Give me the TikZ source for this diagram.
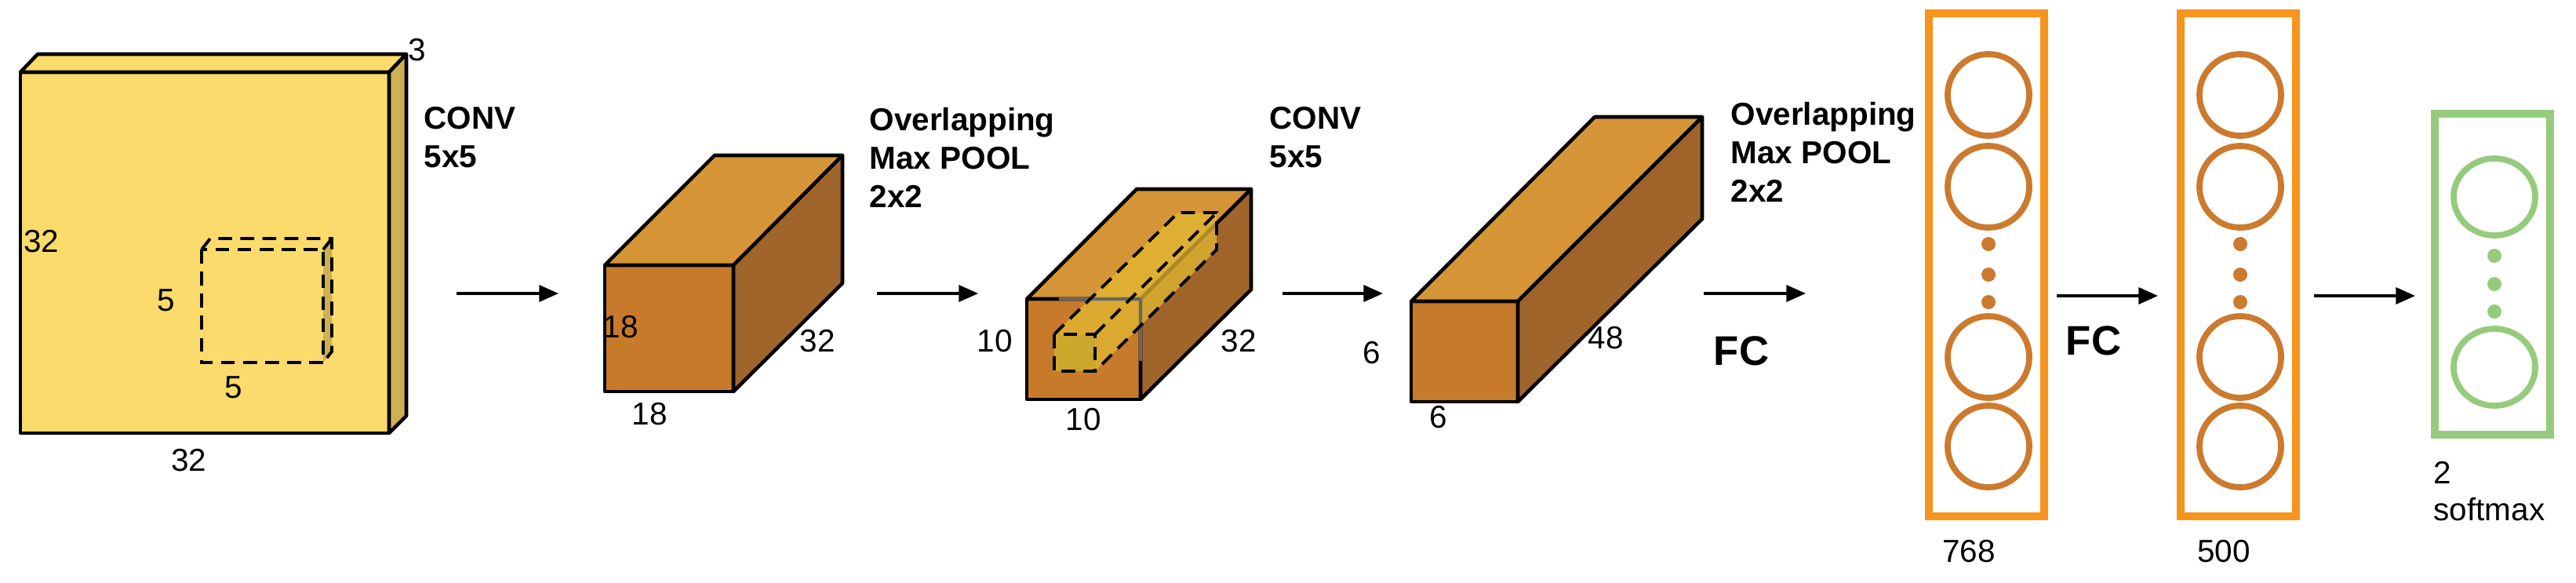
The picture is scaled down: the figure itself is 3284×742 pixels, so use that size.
\documentclass[tikz,border=0pt]{standalone}
\usepackage{fontspec}
\setmainfont{Liberation Sans}
\usetikzlibrary{arrows.meta,shapes.geometric}
\definecolor{ylw}{HTML}{FBDB6B}
\definecolor{ylwside}{HTML}{CDB053}
\definecolor{bfront}{HTML}{C87A2B}
\definecolor{btop}{HTML}{D59537}
\definecolor{bside}{HTML}{A0652A}
\definecolor{prism}{HTML}{E2B931}
\definecolor{orng}{HTML}{F7941D}
\definecolor{circ}{HTML}{CC7A2E}
\definecolor{grn}{HTML}{96CB7D}
\begin{document}
\begin{tikzpicture}[x=0.01cm,y=-0.01cm,
  edge/.style={line width=1.3pt,line join=round,draw=black},
  dsh/.style={line width=1.1pt,dash pattern=on 5pt off 3pt},
  arr/.style={-{Triangle[length=7pt,width=6pt]},line width=0.9pt},
  num/.style={font=\fontsize{11.5}{13.5}\selectfont,inner sep=0pt},
  lab/.style={font=\fontsize{11.5}{14}\selectfont\bfseries,inner sep=0pt,anchor=west,align=left},
  fc/.style={font=\fontsize{15}{18}\selectfont\bfseries,inner sep=0pt},
  neuron/.style={draw=circ,line width=2.2pt,ellipse,minimum width=1.04cm,minimum height=1.04cm,inner sep=0pt},
  dot/.style={fill=circ,circle,minimum size=0.18cm,inner sep=0pt},
  gneuron/.style={draw=grn,line width=2.2pt,ellipse,minimum width=1.04cm,minimum height=0.98cm,inner sep=0pt},
  gdot/.style={fill=grn,circle,minimum size=0.18cm,inner sep=0pt},
]
\useasboundingbox (0,0) rectangle (3284,742);
% ---- input volume
\filldraw[edge,fill=ylw] (26,92) rectangle (496,552);
\filldraw[edge,fill=ylw] (26,92) -- (48,69) -- (518,69) -- (496,92) -- cycle;
\filldraw[edge,fill=ylwside] (496,92) -- (518,69) -- (518,530) -- (496,552) -- cycle;
% dashed kernel
\fill[ylwside] (412,318) -- (423,304) -- (423,448) -- (412,462) -- cycle;
\draw[dsh] (257,318) rectangle (412,462);
\draw[dsh] (257,318) -- (268,304) -- (423,304) -- (423,448) -- (412,462);
\draw[dsh] (412,318) -- (423,304);
\node[num] (n3) at (532,64) {3};
\node[num] (n32a) at (53,308) {32};
\node[num] (n5a) at (212,383) {5};
\node[num] (n5b) at (298,494) {5};
\node[num] (n32b) at (241,587) {32};
\node[lab] (conv1) at (540,175) {CONV\\5x5};
% ---- conv1 output
\filldraw[edge,fill=bfront] (771,338) rectangle (935,499);
\filldraw[edge,fill=btop] (771,338) -- (911,198) -- (1074,198) -- (935,338) -- cycle;
\filldraw[edge,fill=bside] (935,338) -- (1074,198) -- (1074,361) -- (935,499) -- cycle;
\node[num] (n18a) at (791,417) {18};
\node[num] (n32c) at (1042,435) {32};
\node[num] (n18b) at (828,528) {18};
\node[lab] (pool1) at (1108,201) {Overlapping\\Max POOL\\2x2};
% ---- pool1 output
\filldraw[edge,fill=bfront] (1309,381) rectangle (1454,509);
\filldraw[edge,fill=btop] (1309,381) -- (1449,241) -- (1595,241) -- (1454,381) -- cycle;
\filldraw[edge,fill=bside] (1454,381) -- (1595,241) -- (1595,369) -- (1454,509) -- cycle;
% prism
\fill[prism,opacity=0.75] (1344,426) -- (1502,271) -- (1551,271) -- (1551,318) -- (1396,473) -- (1344,473) -- cycle;
\fill[prism!90!black] (1344,426) rectangle (1396,473);
\draw[black!60,line width=1pt] (1454,381) -- (1454,460) (1454,381) -- (1350,381);
\draw[dsh] (1344,426) rectangle (1396,473);
\draw[dsh] (1344,426) -- (1502,271) -- (1551,271) -- (1551,318) -- (1396,473);
\draw[dsh] (1396,426) -- (1551,271);
\node[num] (n10a) at (1268,435) {10};
\node[num] (n32d) at (1579,435) {32};
\node[num] (n10b) at (1381,535) {10};
\node[lab] (conv2) at (1618,175) {CONV\\5x5};
% ---- conv2 output
\filldraw[edge,fill=bfront] (1799,384) rectangle (1935,512);
\filldraw[edge,fill=btop] (1799,384) -- (2033,149) -- (2170,149) -- (1935,384) -- cycle;
\filldraw[edge,fill=bside] (1935,384) -- (2170,149) -- (2170,279) -- (1935,512) -- cycle;
\node[num] (n6a) at (1749,450) {6};
\node[num] (n48) at (2047,431) {48};
\node[num] (n6b) at (1834,532) {6};
\node[lab] (pool2) at (2206,194) {Overlapping\\Max POOL\\2x2};
\node[fc] (fc1) at (2220,447) {FC};
% ---- FC layers
\draw[orng,line width=2.6pt] (2459,17) rectangle (2606,658);
\node[neuron] (a1) at (2535,121) {};
\node[neuron] (a2) at (2535,238) {};
\node[neuron] (a3) at (2535,455) {};
\node[neuron] (a4) at (2535,569) {};
\node[dot] (ad1) at (2535,311) {};
\node[dot] (ad2) at (2535,350) {};
\node[dot] (ad3) at (2535,385) {};
\node[num] (n768) at (2510,703) {768};
\node[fc] (fc2) at (2669,434) {FC};
\draw[orng,line width=2.6pt] (2780,17) rectangle (2927,658);
\node[neuron] (b1) at (2856,121) {};
\node[neuron] (b2) at (2856,238) {};
\node[neuron] (b3) at (2856,455) {};
\node[neuron] (b4) at (2856,569) {};
\node[dot] (bd1) at (2856,311) {};
\node[dot] (bd2) at (2856,350) {};
\node[dot] (bd3) at (2856,385) {};
\node[num] (n500) at (2835,703) {500};
\draw[grn,line width=2.6pt] (3104,145) rectangle (3251,554);
\node[gneuron] (c1) at (3180,251) {};
\node[gneuron] (c2) at (3180,468) {};
\node[gdot] (cd1) at (3180,326) {};
\node[gdot] (cd2) at (3180,362) {};
\node[gdot] (cd3) at (3180,397) {};
\node[num,anchor=west,align=left] (soft) at (3102,626) {2\\softmax};
% ---- arrows
\coordinate (s1) at (582,374); \coordinate (e1) at (712,374);
\coordinate (s2) at (1118,374); \coordinate (e2) at (1247,374);
\coordinate (s3) at (1635,374); \coordinate (e3) at (1763,374);
\coordinate (s4) at (2172,374); \coordinate (e4) at (2302,374);
\coordinate (s5) at (2622,377); \coordinate (e5) at (2751,377);
\coordinate (s6) at (2950,377); \coordinate (e6) at (3079,377);
\draw[arr] (s1) -- (e1);
\draw[arr] (s2) -- (e2);
\draw[arr] (s3) -- (e3);
\draw[arr] (s4) -- (e4);
\draw[arr] (s5) -- (e5);
\draw[arr] (s6) -- (e6);
\end{tikzpicture}
\end{document}
